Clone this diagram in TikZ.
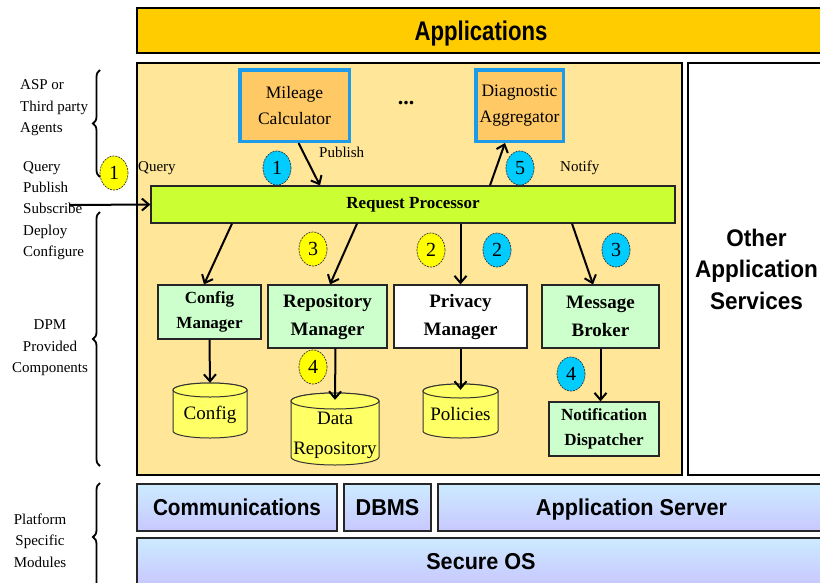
\documentclass[tikz,border=0pt]{standalone}
\usepackage{fontspec}
\setmainfont{Liberation Serif}
\setsansfont{Liberation Sans}
\newfontfamily\headsans[FakeStretch=0.82]{Liberation Sans}
\newfontfamily\layersans[FakeStretch=0.94]{Liberation Sans}
\newfontfamily\commsans[FakeStretch=0.9]{Liberation Sans}
\usetikzlibrary{arrows.meta,decorations.pathreplacing,shapes.geometric}

\definecolor{appgold}{HTML}{FFCC00}
\definecolor{dpmyellow}{HTML}{FFE699}
\definecolor{rpgreen}{HTML}{CCFF33}
\definecolor{agentorange}{HTML}{FFC966}
\definecolor{agentblue}{HTML}{1E9BE8}
\definecolor{stepcyan}{HTML}{00CCFF}
\definecolor{stepyellow}{HTML}{FFFF00}
\definecolor{mgrgreen}{HTML}{CCFFCC}
\definecolor{dbyellow}{HTML}{FFFF66}
\definecolor{platformtop}{HTML}{CCEBFF}
\definecolor{platformbot}{HTML}{C8C8FF}

% database cylinder: name, left, top, right, bottom, ellipse half-height
\newcommand\dbcylinder[6]{%
  \pgfmathsetmacro\cylrx{(#4-#2)/2}%
  \pgfmathsetmacro\cylw{#4-#2}%
  \pgfmathsetmacro\cylcx{(#4+#2)/2}%
  \pgfmathsetmacro\cylcy{(#5+#3)/2}%
  \pgfmathsetmacro\cylh{#5-#3}%
  \filldraw[dbshape] (#2,#3+#6) -- (#2,#5-#6)
     arc[start angle=180,end angle=360,x radius=\cylrx pt,y radius=#6pt]
     -- (#4,#3+#6)
     arc[start angle=0,end angle=180,x radius=\cylrx pt,y radius=#6pt] -- cycle;
  \draw[dbshape] (\cylcx,#3+#6) ellipse[x radius=\cylrx pt,y radius=#6pt];
  \node[inner sep=0pt,minimum width=\cylw pt,minimum height=\cylh pt] (#1) at (\cylcx,\cylcy) {};
}

\begin{document}
\begin{tikzpicture}[x=1pt,y=-1pt,
  layer/.style={draw=black, line width=1.5pt, inner sep=0pt},
  agent/.style={draw=agentblue, line width=3.5pt, fill=agentorange, align=center,
    inner sep=0pt, font=\fontsize{17.5}{26}\selectfont},
  mgr/.style={draw=black!85, line width=1.2pt, fill=mgrgreen, align=center,
    inner sep=0pt, font=\fontsize{19}{28}\selectfont\bfseries},
  smallmgr/.style={mgr, font=\fontsize{17}{25}\selectfont\bfseries},
  dbshape/.style={draw=black!80, line width=1pt, fill=dbyellow},
  dbtext/.style={inner sep=0pt, align=center, font=\fontsize{19}{30}\selectfont},
  numball/.style={ellipse, draw=black!80, line width=0.7pt, dash pattern=on 2pt off 1pt,
    minimum width=28pt, minimum height=34pt, inner sep=0pt, font=\fontsize{20}{20}\selectfont},
  ballcyan/.style={numball, fill=stepcyan},
  ballyellow/.style={numball, fill=stepyellow},
  platform/.style={draw=black!85, line width=1.5pt, top color=platformtop,
    bottom color=platformbot, inner sep=0pt, text height=18pt, text depth=2pt,
    font=\fontsize{23}{26}\layersans\bfseries},
  sidenote/.style={inner sep=0pt, font=\fontsize{15}{21.4}\selectfont},
  flowlabel/.style={inner sep=0pt, anchor=west, font=\fontsize{15}{18}\selectfont},
  arr/.style={-{Straight Barb[length=7pt,width=12pt,line width=2pt]}, line width=2pt},
  sidebrace/.style={decorate, decoration={brace, amplitude=7pt, aspect=0.5}, line width=1.8pt}
]
\useasboundingbox (0,0) rectangle (820,582);
\clip (0,0) rectangle (820,582);
\fill[white] (0,0) rectangle (820,582);

% application tier
\node[layer, fill=appgold, font=\fontsize{27}{30}\headsans\bfseries,
      text height=21pt, text depth=2pt,
      minimum width=688pt, minimum height=45pt] (apps) at (481,30.5) {Applications};

% DPM provided components and other services
\node[draw=black, line width=2pt, fill=dpmyellow, minimum width=545pt, minimum height=412pt] (dpm) at (409.5,269) {};
\node[layer, fill=white, font=\fontsize{24}{31.5}\layersans\bfseries, align=center,
      minimum width=137pt, minimum height=412pt] (other) at (756.5,269) {Other\\Application\\Services};

% platform specific modules
\node[platform, minimum width=200pt, minimum height=47pt,
      font=\fontsize{23}{26}\commsans\bfseries] (comm) at (237,507.5) {Communications};
\node[platform, minimum width=87pt, minimum height=47pt] (dbms) at (387.5,507.5) {DBMS};
\node[platform, minimum width=387pt, minimum height=47pt] (appsrv) at (631.5,507.5) {Application Server};
\node[platform, minimum width=688pt, minimum height=46pt] (secos) at (481,561) {Secure OS};

% side annotations
\node[sidenote, anchor=west, align=left] (aspnote) at (20,108) {ASP or\\Third party\\Agents};
\node[sidenote, anchor=west, align=left] (opsnote) at (23,210.5) {Query\\Publish\\Subscribe\\Deploy\\Configure};
\node[sidenote, align=center] (dpmnote) at (50,348) {DPM\\Provided\\Components};
\node[sidenote, align=center] (platnote) at (40,540.5) {Platform\\Specific\\Modules};

\coordinate (b1lo) at (100,177);  \coordinate (b1hi) at (100,70);
\coordinate (b2lo) at (100,466);  \coordinate (b2hi) at (100,212);
\coordinate (b3lo) at (100,591);  \coordinate (b3hi) at (100,483);
\draw[sidebrace] (b1lo) -- (b1hi);
\draw[sidebrace] (b2lo) -- (b2hi);
\draw[sidebrace] (b3lo) -- (b3hi);

% agents
\node[agent, minimum width=109.5pt, minimum height=71.5pt] (mileage) at (294.5,105.5) {Mileage\\Calculator};
\node[agent, minimum width=87.5pt, minimum height=71.5pt] (diag) at (519.5,105.5) {Diagnostic\\Aggregator};
\node[inner sep=0pt, font=\fontsize{22}{22}\selectfont\bfseries] (more) at (406,103) {...};

% request processor
\node[draw=black!85, line width=1.2pt, fill=rpgreen, inner sep=0pt,
      minimum width=524pt, minimum height=37pt, font=\fontsize{17}{20}\selectfont\bfseries] (rp) at (413,204.5) {Request Processor};

% managers
\node[smallmgr, minimum width=103pt, minimum height=54pt] (cfgmgr) at (209.5,312) {Config\\Manager};
\node[mgr, minimum width=119pt, minimum height=63pt] (repomgr) at (327.5,316.5) {Repository\\Manager};
\node[mgr, fill=white, minimum width=133pt, minimum height=63pt] (privmgr) at (460.5,316.5) {Privacy\\Manager};
\node[mgr, minimum width=117pt, minimum height=63pt] (msgbroker) at (600.5,316.5) {Message\\Broker};
\node[smallmgr, minimum width=110pt, minimum height=54pt] (notif) at (604,429) {Notification\\Dispatcher};

% data stores
\dbcylinder{cfgdb}{173}{383}{247}{438}{7}
\node[dbtext] (cfgdbtext) at (210,415) {Config};
\dbcylinder{drdb}{291}{393}{379}{465}{8}
\node[dbtext] (drdbtext) at (335,435) {Data\\Repository};
\dbcylinder{poldb}{423}{384}{498}{438}{7}
\node[dbtext] (poldbtext) at (460.5,414) {Policies};

% flow labels
\node[flowlabel] (qlabel) at (138,168) {Query};
\node[flowlabel] (plabel) at (319,152) {Publish};
\node[flowlabel] (nlabel) at (560,168) {Notify};

% connectors
\coordinate (extsrc) at (70,205);
\draw[arr] (extsrc) -- (rp.west);
\draw[arr] ([xshift=4pt]mileage.south) -- ([xshift=-93pt]rp.north);
\draw[arr] ([xshift=77pt]rp.north) -- ([xshift=-14.5pt]diag.south);
\draw[arr] ([xshift=-181pt]rp.south) -- ([xshift=-5.5pt]cfgmgr.north);
\draw[arr] ([xshift=-56pt]rp.south) -- ([xshift=2.5pt]repomgr.north);
\draw[arr] (rp.south -| privmgr.north) -- (privmgr.north);
\draw[arr] ([xshift=159pt]rp.south) -- ([xshift=-7.5pt]msgbroker.north);
\draw[arr] (cfgmgr.south) -- (cfgdb.north);
\draw[arr] ([xshift=8pt]repomgr.south) -- ([yshift=-7pt]drdb.north);
\draw[arr] (privmgr.south) -- ([yshift=-6pt]poldb.north);
\draw[arr] (msgbroker.south) -- (msgbroker.south |- notif.north);

% numbered steps
\node[ballyellow] (y1) at (114,173) {1};
\node[ballcyan] (c1) at (277,168) {1};
\node[ballcyan] (c5) at (520,168) {5};
\node[ballyellow] (y3) at (313,249) {3};
\node[ballyellow] (y2) at (431,250) {2};
\node[ballcyan] (c2) at (497,250) {2};
\node[ballcyan] (c3) at (616,250) {3};
\node[ballyellow] (y4) at (313,367) {4};
\node[ballcyan] (c4) at (571,374) {4};
\end{tikzpicture}
\end{document}
